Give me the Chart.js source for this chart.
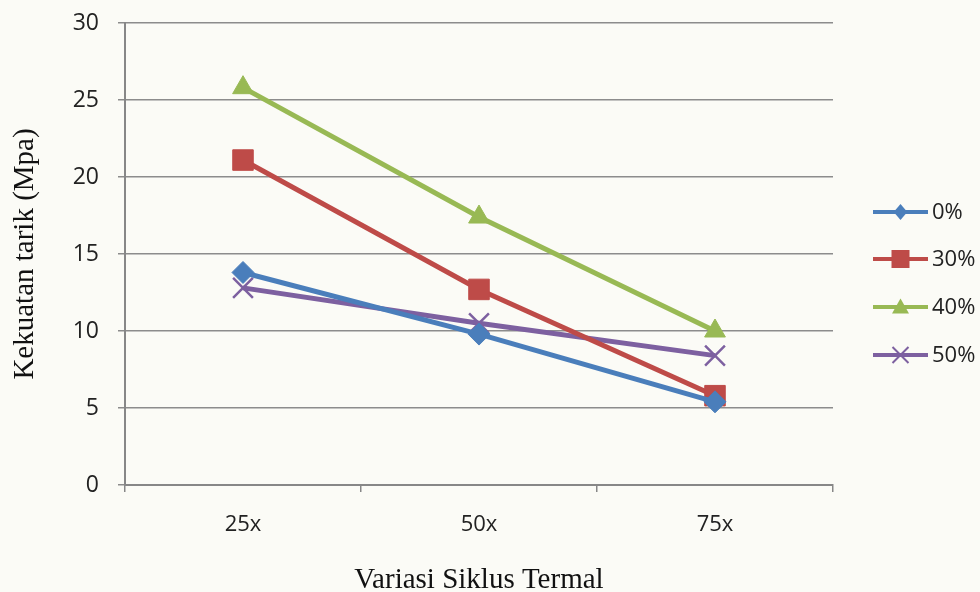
<!DOCTYPE html>
<html>
<head>
<meta charset="utf-8">
<script src="https://cdn.jsdelivr.net/npm/chart.js@4/dist/chart.umd.min.js"></script>
<style>
  html, body { margin: 0; padding: 0; background: #fbfbf6; }
  #wrap { width: 980px; height: 592px; position: relative; }
</style>
</head>
<body>
<div id="wrap"><canvas id="c" width="980" height="592"></canvas></div>
<script>
// Thermal cycle variations and tensile strength (MPa) per composition
const cycles = ['25x', '50x', '75x'];
const seriesNames = ['0%', '30%', '40%', '50%'];
const s0 = [13.8, 9.8, 5.4];
const s30 = [21.1, 12.7, 5.8];
const s40 = [25.8, 17.4, 10.0];
const s50 = [12.8, 10.5, 8.4];
const yTicks = [0, 5, 10, 15, 20, 25, 30];

const styles = [
  { color: '#4a7ebb', point: 'rectRot', radius: 11, border: 1 },
  { color: '#be4b48', point: 'rect', radius: 14.5, border: 1 },
  { color: '#98b954', point: 'triangle', radius: 12, border: 1 },
  { color: '#7d60a0', point: 'crossRot', radius: 14, border: 2.5 }
];
const values = [s0, s30, s40, s50];

const datasets = values.map((v, i) => ({
  label: seriesNames[i],
  data: v,
  borderColor: styles[i].color,
  backgroundColor: styles[i].color,
  borderWidth: 5,
  pointStyle: styles[i].point,
  pointRadius: styles[i].radius,
  pointHoverRadius: styles[i].radius,
  pointBorderWidth: styles[i].border,
  pointBackgroundColor: styles[i].color,
  pointBorderColor: styles[i].color,
  tension: 0
}));

// Small marker shapes for the legend keys
function drawMarker(ctx, shape, x, y, s) {
  ctx.beginPath();
  if (shape === 'rectRot') {
    ctx.moveTo(x, y - s); ctx.lineTo(x + s * 0.85, y); ctx.lineTo(x, y + s); ctx.lineTo(x - s * 0.85, y);
    ctx.closePath(); ctx.fill();
  } else if (shape === 'rect') {
    ctx.rect(x - s, y - s, 2 * s, 2 * s); ctx.fill();
  } else if (shape === 'triangle') {
    ctx.moveTo(x, y - s); ctx.lineTo(x + s, y + s * 0.75); ctx.lineTo(x - s, y + s * 0.75);
    ctx.closePath(); ctx.fill();
  } else {
    ctx.lineWidth = 2;
    ctx.moveTo(x - s, y - s); ctx.lineTo(x + s, y + s);
    ctx.moveTo(x + s, y - s); ctx.lineTo(x - s, y + s);
    ctx.stroke();
  }
}

// Legend on the right: short line with the series marker, then the label
const sideLegend = {
  id: 'sideLegend',
  afterDraw(chart) {
    const ctx = chart.ctx;
    const x0 = 873, x1 = 928, rows = [212, 259, 307, 355];
    const sizes = [8, 9, 8.5, 8];
    chart.data.datasets.forEach((ds, i) => {
      const y = rows[i];
      ctx.save();
      ctx.strokeStyle = ds.borderColor;
      ctx.lineWidth = 4;
      ctx.lineCap = 'butt';
      ctx.beginPath();
      ctx.moveTo(x0, y);
      ctx.lineTo(x1, y);
      ctx.stroke();
      ctx.fillStyle = ds.pointBackgroundColor;
      ctx.strokeStyle = ds.pointBorderColor;
      drawMarker(ctx, ds.pointStyle, (x0 + x1) / 2, y, sizes[i]);
      ctx.fillStyle = '#222';
      ctx.font = '22px "Open Sans", sans-serif';
      ctx.textBaseline = 'middle';
      ctx.textAlign = 'left';
      ctx.fillText(ds.label, x1 + 4, y + 1);
      ctx.restore();
    });
  }
};

new Chart(document.getElementById('c'), {
  type: 'line',
  data: { labels: cycles, datasets },
  plugins: [sideLegend],
  options: {
    responsive: false,
    animation: false,
    layout: { padding: { left: 0, right: 147, top: 23, bottom: 0 } },
    plugins: { legend: { display: false }, tooltip: { enabled: false } },
    scales: {
      x: {
        offset: true,
        grid: {
          offset: true,
          drawOnChartArea: false,
          drawTicks: true,
          tickLength: 7,
          color: '#878787',
          lineWidth: 1.5
        },
        border: { color: '#878787', width: 2 },
        ticks: {
          color: '#222',
          font: { family: '"Open Sans", sans-serif', size: 22 },
          padding: 20
        },
        title: {
          display: true,
          text: 'Variasi Siklus Termal',
          color: '#111',
          font: { family: '"Liberation Serif", serif', size: 29, lineHeight: 0.8 },
          padding: { top: 0, bottom: 0 }
        },
        afterFit(scale) {
          scale.height = 107;
          scale.paddingLeft = 0;
          scale.paddingRight = 0;
        }
      },
      y: {
        min: 0,
        max: 30,
        afterBuildTicks(scale) { scale.ticks = yTicks.map(v => ({ value: v })); },
        grid: {
          color: '#8c8c8c',
          lineWidth: 1.5,
          tickLength: 7,
          drawTicks: true
        },
        border: { color: '#878787', width: 2 },
        ticks: {
          color: '#222',
          font: { family: '"Open Sans", sans-serif', size: 23 },
          padding: 19
        },
        title: {
          display: true,
          text: 'Kekuatan tarik (Mpa)',
          color: '#111',
          font: { family: '"Liberation Serif", serif', size: 29 },
          padding: { top: 8, bottom: 0 }
        },
        afterFit(scale) {
          scale.width = 125;
          scale.paddingTop = 0;
          scale.paddingBottom = 0;
        }
      }
    }
  }
});
</script>
</body>
</html>
